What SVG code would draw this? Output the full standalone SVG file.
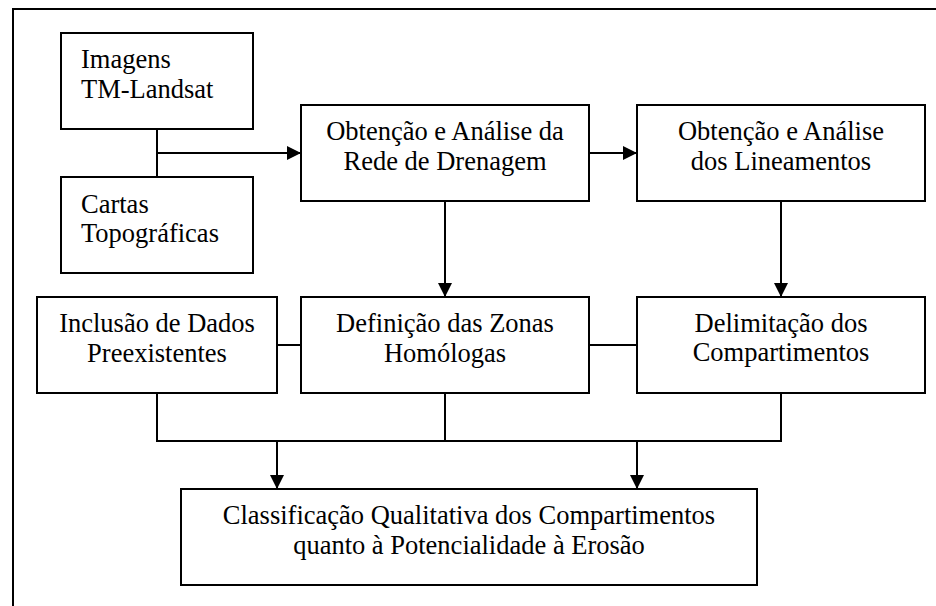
<svg xmlns="http://www.w3.org/2000/svg" width="936" height="606" viewBox="0 0 936 606">
<style>
.box{fill:#fff;stroke:#000;stroke-width:2}
.ln{fill:none;stroke:#000;stroke-width:2}
text{font-family:'Liberation Serif','DejaVu Serif',serif;font-size:26.5px;fill:#000}
.c{text-anchor:middle}
</style>
<defs>
<marker id="ah" markerUnits="userSpaceOnUse" markerWidth="14" markerHeight="14" refX="14" refY="7" orient="auto">
<path d="M0,0 L14,7 L0,14 z" fill="#000"/>
</marker>
</defs>
<rect width="936" height="606" fill="#fff"/>
<path class="ln" d="M13,606 L13,9 L936,9"/>
<g id="connectors">
<path class="ln" d="M157,129 L157,177"/>
<path class="ln" d="M157,153 L301,153" marker-end="url(#ah)"/>
<path class="ln" d="M589,153 L637,153" marker-end="url(#ah)"/>
<path class="ln" d="M445,201 L445,297" marker-end="url(#ah)"/>
<path class="ln" d="M781,201 L781,297" marker-end="url(#ah)"/>
<path class="ln" d="M277,345 L301,345"/>
<path class="ln" d="M589,345 L637,345"/>
<path class="ln" d="M157,393 L157,441 L781,441 L781,393"/>
<path class="ln" d="M445,393 L445,441"/>
<path class="ln" d="M277,441 L277,489" marker-end="url(#ah)"/>
<path class="ln" d="M637,441 L637,489" marker-end="url(#ah)"/>
</g>
<g id="imagens">
<rect class="box" x="61" y="33" width="192" height="96"/>
<text x="81" y="68">Imagens</text>
<text x="81" y="98">TM-Landsat</text>
</g>
<g id="cartas">
<rect class="box" x="61" y="177" width="192" height="96"/>
<text x="81" y="213">Cartas</text>
<text x="81" y="242">Topográficas</text>
</g>
<g id="rede">
<rect class="box" x="301" y="105" width="288" height="96"/>
<text class="c" x="445" y="140">Obtenção e Análise da</text>
<text class="c" x="445" y="170">Rede de Drenagem</text>
</g>
<g id="lineamentos">
<rect class="box" x="637" y="105" width="288" height="96"/>
<text class="c" x="781" y="140">Obtenção e Análise</text>
<text class="c" x="781" y="170">dos Lineamentos</text>
</g>
<g id="inclusao">
<rect class="box" x="37" y="297" width="240" height="96"/>
<text class="c" x="157" y="332">Inclusão de Dados</text>
<text class="c" x="157" y="362">Preexistentes</text>
</g>
<g id="definicao">
<rect class="box" x="301" y="297" width="288" height="96"/>
<text class="c" x="445" y="332">Definição das Zonas</text>
<text class="c" x="445" y="362">Homólogas</text>
</g>
<g id="delimitacao">
<rect class="box" x="637" y="297" width="288" height="96"/>
<text class="c" x="781" y="332">Delimitação dos</text>
<text class="c" x="781" y="361">Compartimentos</text>
</g>
<g id="classificacao">
<rect class="box" x="181" y="489" width="576" height="96"/>
<text class="c" x="469" y="524">Classificação Qualitativa dos Compartimentos</text>
<text class="c" x="469" y="554">quanto à Potencialidade à Erosão</text>
</g>
</svg>
